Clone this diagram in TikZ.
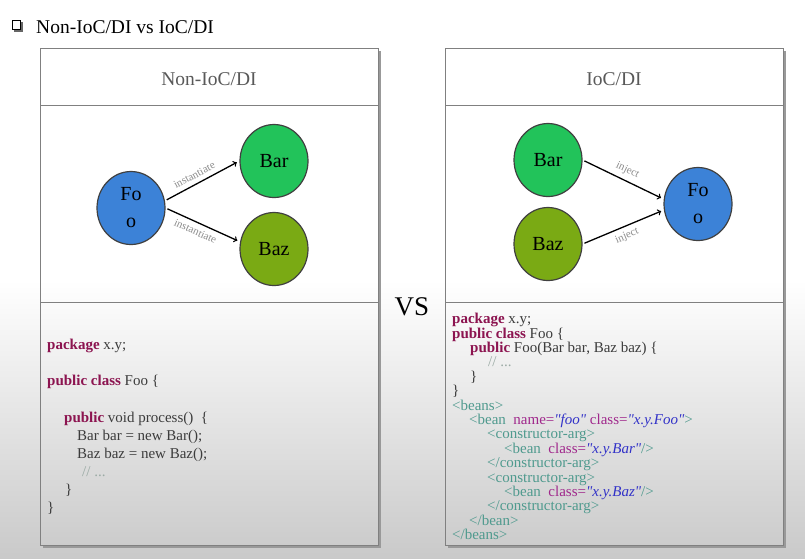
\documentclass[tikz,border=0pt]{standalone}
\usepackage{fontspec}
\setmainfont{Liberation Serif}
\newfontfamily\codefont{Liberation Serif}[Ligatures=TeXOff]
\usetikzlibrary{shapes.geometric, arrows}

\definecolor{fooblue}{HTML}{3C82D7}
\definecolor{bargreen}{HTML}{22C35A}
\definecolor{bazgreen}{HTML}{7AAA14}
\definecolor{kwred}{HTML}{8C1450}
\definecolor{tagteal}{HTML}{4F9A8E}
\definecolor{attrpurple}{HTML}{A0288C}
\definecolor{valblue}{HTML}{3232C8}
\definecolor{codegray}{HTML}{3C3C3C}
\definecolor{commentgray}{HTML}{9AAAA4}

\newcommand{\codekw}[1]{\textcolor{kwred}{\textbf{#1}}}
\newcommand{\xtag}[1]{\textcolor{tagteal}{#1}}
\newcommand{\xattr}[1]{\textcolor{attrpurple}{#1}}
\newcommand{\xval}[1]{\textcolor{valblue}{\textit{#1}}}
\newcommand{\xcomment}[1]{\textcolor{commentgray}{#1}}

\tikzstyle{panel} = [
    draw=black!50,
    line width=1pt
]
\tikzstyle{panelshadow} = [
    draw=black!40,
    line width=1.5pt
]
\tikzstyle{header} = [
    text=black!65,
    font=\fontsize{19.5}{22}\selectfont
]
\tikzstyle{ball} = [
    ellipse,
    minimum width=68pt,
    minimum height=73pt,
    inner sep=0pt,
    align=center,
    draw=black!75,
    line width=1.2pt,
    font=\fontsize{20}{27}\selectfont
]
\tikzstyle{foo} = [ball, fill=fooblue]
\tikzstyle{bar} = [ball, fill=bargreen]
\tikzstyle{baz} = [ball, fill=bazgreen]
\tikzstyle{arrow} = [line width=1.3pt,->,>=to,shorten >=3pt,shorten <=2pt]
\tikzstyle{edgelabel} = [
    sloped,
    inner sep=4.5pt,
    text=black!45,
    font=\fontsize{11}{11}\selectfont
]
\tikzstyle{code} = [
    anchor=north west,
    align=left,
    inner sep=0pt,
    text=codegray
]

\begin{document}
\begin{tikzpicture}[x=1pt, y=-1pt]

\useasboundingbox (0,0) rectangle (805,558);
\fill [white] (0,0) rectangle (805,280);
\shade [top color=white, bottom color=black!21] (0,280) rectangle (805,558);

% title
\draw [black!60, line width=1.5pt] (14,31) -- (22,31) -- (22,22);
\draw [black, line width=0.6pt] (12,20) rectangle (20,29);
\node (title) [anchor=base west, inner sep=0pt,
    font=\fontsize{19.5}{22}\selectfont] at (36,33) {Non-IoC/DI vs IoC/DI};

% panels
\draw [panelshadow] (380,51) -- (380,547) -- (43,547);
\draw [panel] (40,48) rectangle (378,545);
\draw [panel] (40,105) -- (378,105);
\draw [panel] (40,302) -- (378,302);

\draw [panelshadow] (785,51) -- (785,547) -- (448,547);
\draw [panel] (445,48) rectangle (783,545);
\draw [panel] (445,105) -- (783,105);
\draw [panel] (445,302) -- (783,302);

\node (lhead) [header] at (209,79) {Non-IoC/DI};
\node (rhead) [header] at (614,79) {IoC/DI};

\node (versus) [font=\fontsize{27}{30}\selectfont] at (412,307) {VS};

% Non-IoC/DI
\node (lfoo) [foo] at (131,208) {Fo\\o};
\node (lbar) [bar] at (274,161) {Bar};
\node (lbaz) [baz] at (274,249) {Baz};

\draw [arrow] (lfoo.12) -- (lbar.west)
    node [edgelabel, pos=0.45, above] {instantiate};
\draw [arrow] (lfoo.east) -- (lbaz.168)
    node [edgelabel, pos=0.45, below] {instantiate};

% IoC/DI
\node (rbar) [bar] at (548,160) {Bar};
\node (rbaz) [baz] at (548,244) {Baz};
\node (rfoo) [foo] at (698,204) {Fo\\o};

\draw [arrow] (rbar.east) -- (rfoo.172)
    node [edgelabel, midway, above] {inject};
\draw [arrow] (rbaz.east) -- (rfoo.190)
    node [edgelabel, midway, below] {inject};

% code
\node (lcode) [code, font=\codefont\fontsize{15}{18.1}\selectfont] at (47,339) {
\codekw{package} x.y;\\
\mbox{}\\
\codekw{public class} Foo \{\\
\mbox{}\\
\hspace*{17pt}\codekw{public} void process()\ \ \{\\
\hspace*{30pt}Bar bar = new Bar();\\
\hspace*{30pt}Baz baz = new Baz();\\
\hspace*{35pt}\xcomment{// ...}\\
\hspace*{18pt}\}\\
\}};

\node (rcode) [code, font=\codefont\fontsize{15}{14.4}\selectfont] at (452,313) {
\codekw{package} x.y;\\
\codekw{public class} Foo \{\\
\hspace*{18pt}\codekw{public} Foo(Bar bar, Baz baz) \{\\
\hspace*{36pt}\xcomment{// ...}\\
\hspace*{18pt}\}\\
\}\\
\xtag{<beans>}\\
\hspace*{17pt}\xtag{<bean}\ \ \xattr{name=}\xval{"foo"} \xattr{class=}\xval{"x.y.Foo"}\xtag{>}\\
\hspace*{35pt}\xtag{<constructor-arg>}\\
\hspace*{52pt}\xtag{<bean}\ \ \xattr{class=}\xval{"x.y.Bar"}\xtag{/>}\\
\hspace*{35pt}\xtag{</constructor-arg>}\\
\hspace*{35pt}\xtag{<constructor-arg>}\\
\hspace*{52pt}\xtag{<bean}\ \ \xattr{class=}\xval{"x.y.Baz"}\xtag{/>}\\
\hspace*{35pt}\xtag{</constructor-arg>}\\
\hspace*{17pt}\xtag{</bean>}\\
\xtag{</beans>}};

\end{tikzpicture}
\end{document}
